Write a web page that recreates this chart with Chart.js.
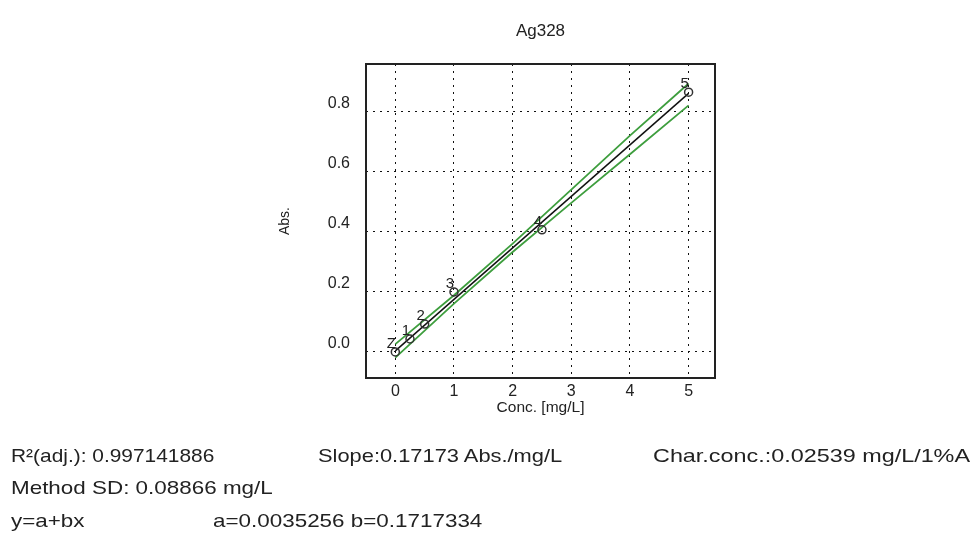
<!DOCTYPE html>
<html>
<head>
<meta charset="utf-8">
<title>Ag328 calibration</title>
<script src="https://cdn.jsdelivr.net/npm/chart.js@4/dist/chart.umd.min.js"></script>
<style>
  html, body { margin: 0; padding: 0; background: #fff; }
  #wrap { position: relative; width: 973px; height: 541px; overflow: hidden; }
  #chart { position: absolute; left: 0; top: 0; }
  .stat {
    position: absolute;
    font-family: "Liberation Sans", Arial, sans-serif;
    font-size: 19px;
    line-height: 1;
    color: #222;
    white-space: nowrap;
    transform: scaleX(1.18);
    transform-origin: left top;
  }
</style>
</head>
<body>
<div id="wrap">
  <canvas id="chart" width="973" height="541" style="width:973px;height:541px"></canvas>
  <div class="stat" style="left:11px;top:446px;transform:scaleX(1.1)">R²(adj.): 0.997141886</div>
  <div class="stat" style="left:318px;top:446px;transform:scaleX(1.15)">Slope:0.17173 Abs./mg/L</div>
  <div class="stat" style="left:653px;top:446px;transform:scaleX(1.23)">Char.conc.:0.02539 mg/L/1%A</div>
  <div class="stat" style="left:11px;top:478px">Method SD: 0.08866 mg/L</div>
  <div class="stat" style="left:11px;top:511px">y=a+bx</div>
  <div class="stat" style="left:213px;top:511px">a=0.0035256 b=0.1717334</div>
</div>
<script>
// Calibration standards (concentration in mg/L, absorbance)
const element = 'Ag328';
const stdNames = ['Z', '1', '2', '3', '4', '5'];
const stdConc = [0, 0.25, 0.5, 1, 2.5, 5];
const stdAbs = [0.0, 0.043, 0.093, 0.2, 0.407, 0.866];

// Linear fit y = a + b*x
const fitA = 0.0035256;
const fitB = 0.1717334;
const fitRange = [0, 5];

// Confidence band around the fit
const bandConc = [0, 1, 2, 3, 4, 5];
const bandUpper = [0.026, 0.189, 0.361, 0.541, 0.721, 0.895];
const bandLower = [-0.019, 0.161, 0.333, 0.497, 0.659, 0.822];

// Axis ticks
const xTicks = [0, 1, 2, 3, 4, 5];
const yTicks = [0, 0.2, 0.4, 0.6, 0.8];

const toPoints = (xs, ys) => xs.map((x, i) => ({ x: x, y: ys[i] }));
const fitPoints = fitRange.map(x => ({ x: x, y: fitA + fitB * x }));

const GREEN = '#3e9e3e';
const INK = '#222';
const FONT = '"Liberation Sans", Arial, sans-serif';

// Frame around the plot area and the standard names next to each point
const framePlugin = {
  id: 'frameAndNames',
  afterDatasetsDraw(chart) {
    const { ctx, chartArea: a } = chart;
    ctx.save();
    ctx.strokeStyle = INK;
    ctx.lineWidth = 2;
    ctx.strokeRect(a.left, a.top, a.right - a.left, a.bottom - a.top);

    const meta = chart.getDatasetMeta(0);
    ctx.fillStyle = INK;
    ctx.font = '15px ' + FONT;
    ctx.textAlign = 'center';
    ctx.textBaseline = 'middle';
    meta.data.forEach((pt, i) => {
      ctx.fillText(stdNames[i], pt.x - 4, pt.y - 8);
    });
    ctx.restore();
  }
};

new Chart(document.getElementById('chart'), {
  type: 'scatter',
  data: {
    datasets: [
      {
        label: 'Standards',
        data: toPoints(stdConc, stdAbs),
        showLine: false,
        pointStyle: 'circle',
        pointRadius: 4,
        pointBorderWidth: 1.5,
        pointBorderColor: '#333',
        pointBackgroundColor: 'rgba(0,0,0,0)'
      },
      {
        label: 'Fit',
        data: fitPoints,
        showLine: true,
        borderColor: '#111',
        borderWidth: 1.5,
        pointRadius: 0
      },
      {
        label: 'Upper',
        data: toPoints(bandConc, bandUpper),
        showLine: true,
        borderColor: GREEN,
        borderWidth: 1.8,
        pointRadius: 0
      },
      {
        label: 'Lower',
        data: toPoints(bandConc, bandLower),
        showLine: true,
        borderColor: GREEN,
        borderWidth: 1.8,
        pointRadius: 0
      }
    ]
  },
  options: {
    responsive: false,
    animation: false,
    devicePixelRatio: 1,
    layout: { padding: { left: 270, right: 258, top: 0, bottom: 103 } },
    plugins: {
      legend: { display: false },
      tooltip: { enabled: false },
      title: {
        display: true,
        text: element,
        fullSize: false,
        color: INK,
        font: { family: FONT, size: 17, weight: 'normal' },
        padding: { top: 21, bottom: 22.6 }
      }
    },
    scales: {
      x: {
        type: 'linear',
        min: -0.5,
        max: 5.45,
        afterBuildTicks: s => { s.ticks = xTicks.map(v => ({ value: v })); },
        afterFit: s => { s.height = 60; },
        grid: { color: '#111', lineWidth: 1, drawTicks: false },
        border: { display: false, dash: [2, 5] },
        ticks: {
          color: INK,
          padding: 4,
          font: { family: FONT, size: 16 },
          callback: v => String(v)
        },
        title: {
          display: true,
          text: 'Conc. [mg/L]',
          color: INK,
          font: { family: FONT, size: 15.5 },
          padding: { top: 0, bottom: 21 }
        }
      },
      y: {
        type: 'linear',
        min: -0.087,
        max: 0.96,
        afterBuildTicks: s => { s.ticks = yTicks.map(v => ({ value: v })); },
        afterFit: s => { s.width = 96; },
        grid: { color: '#111', lineWidth: 1, drawTicks: false },
        border: { display: false, dash: [2, 5] },
        ticks: {
          color: INK,
          padding: 16,
          labelOffset: -8,
          font: { family: FONT, size: 16 },
          callback: v => Number(v).toFixed(1)
        },
        title: {
          display: true,
          text: 'Abs.',
          color: INK,
          font: { family: FONT, size: 14 },
          padding: { top: 7, bottom: 0 }
        }
      }
    }
  },
  plugins: [framePlugin]
});
</script>
</body>
</html>
